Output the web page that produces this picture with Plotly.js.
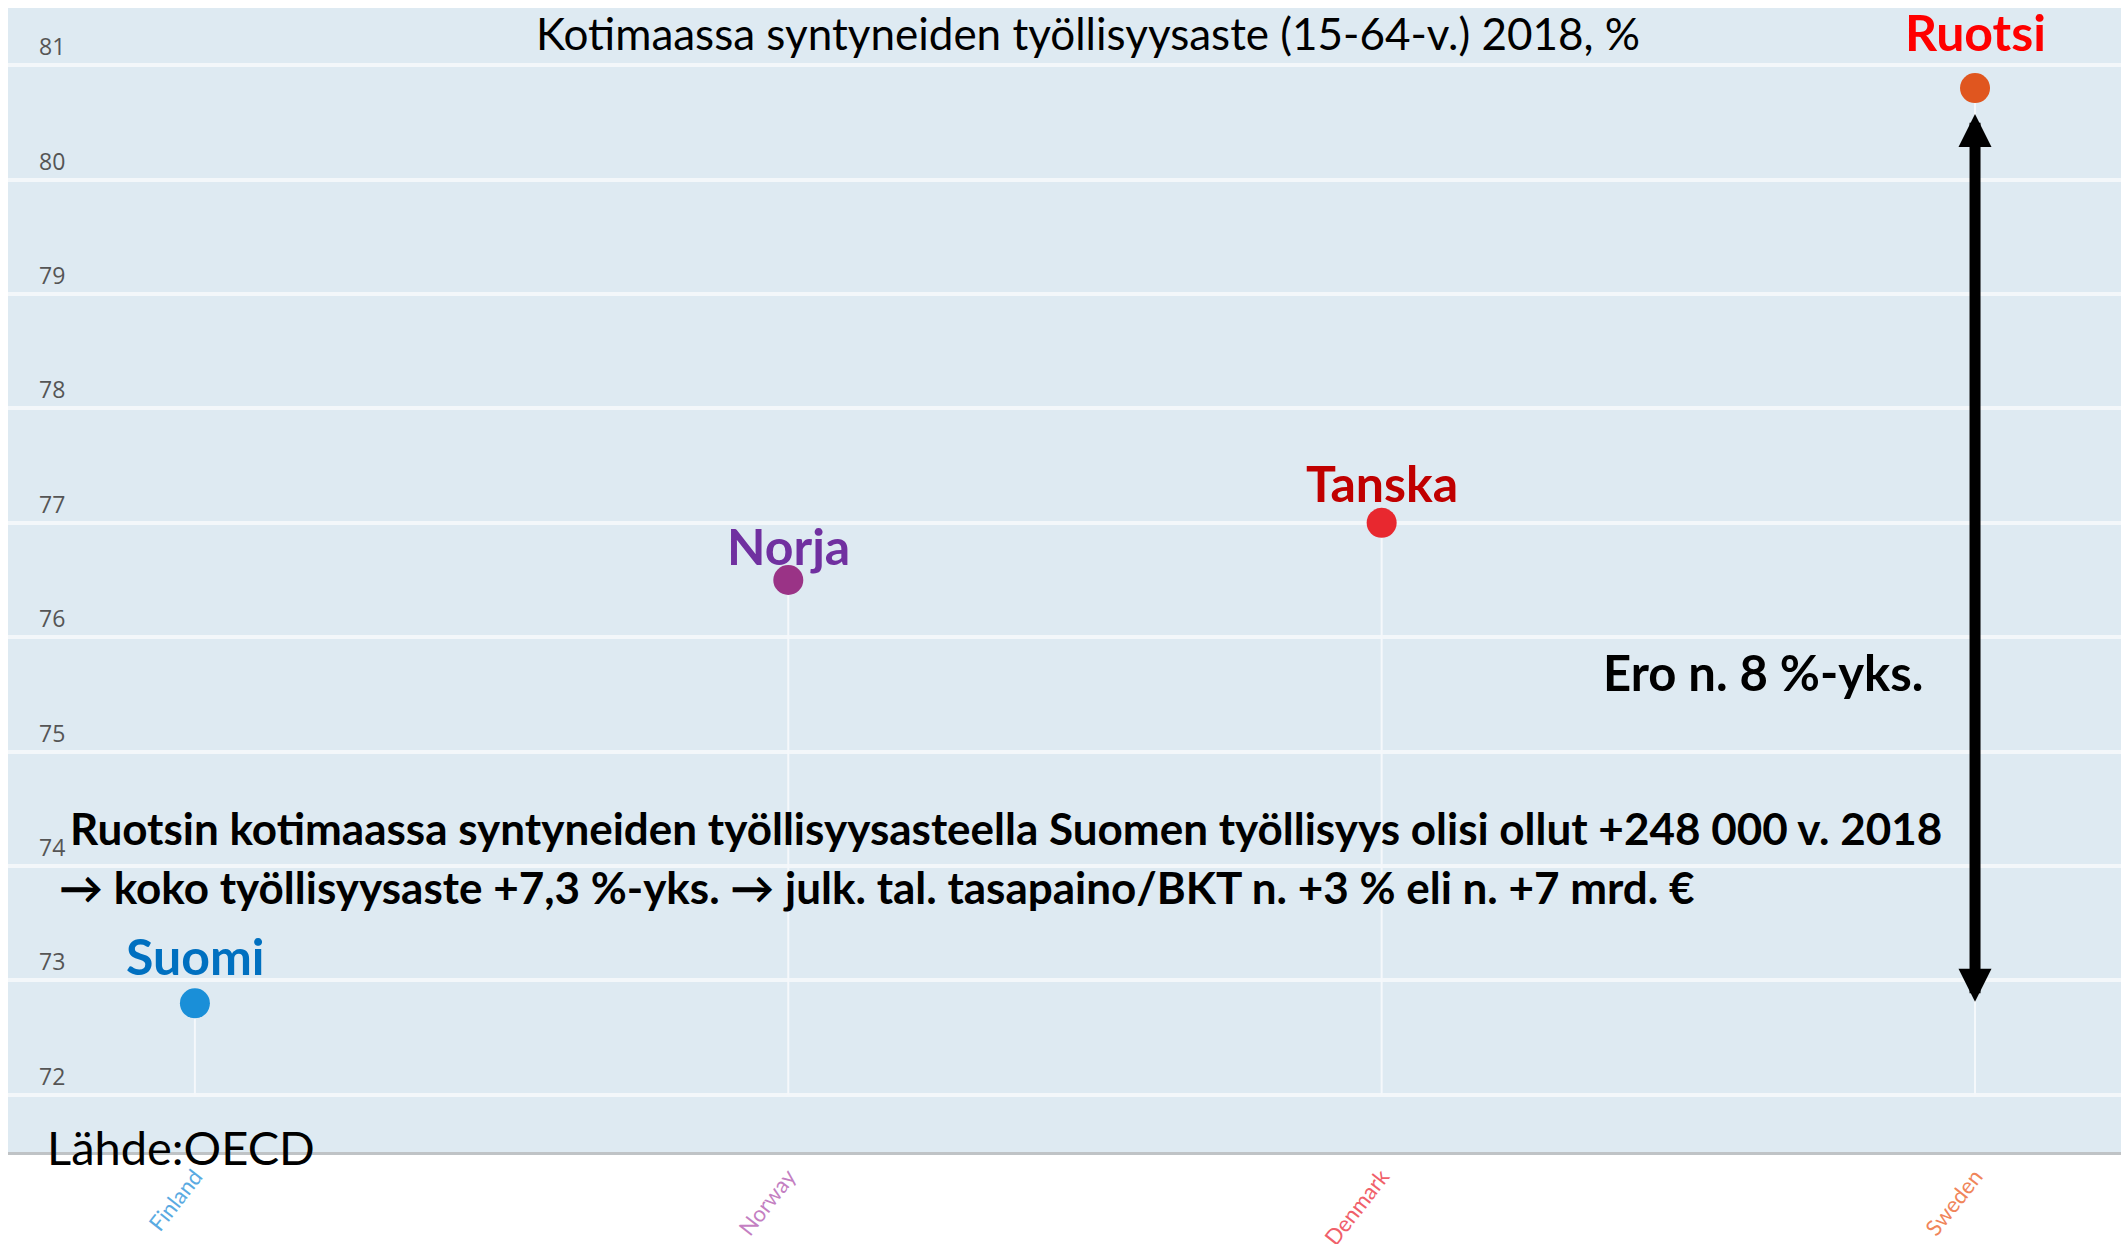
<!DOCTYPE html>
<html>
<head>
<meta charset="utf-8">
<script src="https://cdn.plot.ly/plotly-3.0.1.min.js"></script>
<style>
html,body{margin:0;padding:0;background:#fff;}
#chart{width:2121px;height:1244px;}
</style>
</head>
<body>
<div id="chart"></div>
<script>
// ---- data ----
const categories = ["Finland", "Norway", "Denmark", "Sweden"];
const values = [72.8, 76.5, 77.0, 80.8];
const labelsFi = ["Suomi", "Norja", "Tanska", "Ruotsi"];
const yTicks = [72, 73, 74, 75, 76, 77, 78, 79, 80, 81];
const baseline = 72;
const titleText = "Kotimaassa syntyneiden työllisyysaste (15-64-v.) 2018, %";
const noteLine1 = "Ruotsin kotimaassa syntyneiden työllisyysasteella Suomen työllisyys olisi ollut +248 000 v. 2018";
const noteLine2 = "→ koko työllisyysaste +7,3 %-yks. → julk. tal. tasapaino/BKT n. +3 % eli n. +7 mrd. €";
const gapText = "Ero n. 8 %-yks.";
const sourceText = "Lähde:OECD";

// ---- styles ----
const markerColors = ["#1a8fd8", "#9a3386", "#e8282f", "#e0561f"];
const labelColors = ["#0070c0", "#7030a0", "#c00000", "#ff0000"];
const tickColors = ["#5aaae2", "#c47fc2", "#f0606a", "#f0855a"];
const labelShift = [47, 34, 40, 56];
const FONT = "Lato, 'Open Sans', sans-serif";

const idx = categories.map((c, i) => i);

const traces = [];
// stems
categories.forEach((c, i) => {
  traces.push({
    type: "scatter", mode: "lines",
    x: [i, i], y: [baseline, values[i]],
    line: {color: "#f5f8fb", width: 2},
    hoverinfo: "skip", showlegend: false
  });
});
// dots
traces.push({
  type: "scatter", mode: "markers",
  x: idx, y: values,
  marker: {size: 30, color: markerColors, line: {width: 0}},
  showlegend: false
});

const annotations = [];
categories.forEach((c, i) => {
  annotations.push({
    x: i, y: values[i], xref: "x", yref: "y",
    text: "<b>" + labelsFi[i] + "</b>", showarrow: false,
    yshift: labelShift[i], font: {family: FONT, size: 50, color: labelColors[i]}
  });
});
const iSwe = categories.indexOf("Sweden");
const iFin = categories.indexOf("Finland");
annotations.push({
  x: iSwe, y: values[iSwe], xref: "x", yref: "y",
  ax: iSwe, ay: values[iFin], axref: "x", ayref: "y",
  text: "", showarrow: true, arrowside: "end+start",
  arrowhead: 2, startarrowhead: 2, arrowsize: 0.6, startarrowsize: 0.6,
  arrowwidth: 11, arrowcolor: "#000", standoff: 26, startstandoff: 0
});
annotations.push({
  x: 0.8306, y: 0.4196, xref: "paper", yref: "paper", xanchor: "center", yanchor: "middle",
  text: "<b>" + gapText + "</b>", showarrow: false,
  font: {family: FONT, size: 49, color: "#000"}
});
annotations.push({
  x: 0.0284, y: 0.2832, xref: "paper", yref: "paper", xanchor: "left", yanchor: "middle",
  text: "<b>" + noteLine1 + "</b>", showarrow: false,
  font: {family: FONT, size: 44, color: "#000"}
});
annotations.push({
  x: 0.0232, y: 0.2316, xref: "paper", yref: "paper", xanchor: "left", yanchor: "middle",
  text: "<b>" + noteLine2 + "</b>", showarrow: false,
  font: {family: FONT, size: 44, color: "#000"}
});
annotations.push({
  x: 0.0175, y: 0.0044, xref: "paper", yref: "paper", xanchor: "left", yanchor: "middle",
  text: sourceText, showarrow: false,
  font: {family: FONT, size: 47, color: "#000"}
});

const layout = {
  width: 2121, height: 1244,
  margin: {l: 8, r: 0, t: 8, b: 92},
  paper_bgcolor: "#ffffff",
  plot_bgcolor: "#deeaf2",
  title: {
    text: titleText, x: 0.513, xanchor: "center", y: 0.972, yanchor: "middle",
    font: {family: FONT, size: 44, color: "#000"}
  },
  xaxis: {
    range: [-0.315, 3.246],
    tickvals: idx,
    ticktext: categories.map((c, i) => '<span style="color:' + tickColors[i] + '">' + c + '</span>'),
    tickangle: -52, tickfont: {family: FONT, size: 22},
    showgrid: false, zeroline: false,
    showline: true, linecolor: "#bfc3c6", linewidth: 3,
    ticks: "", fixedrange: true
  },
  yaxis: {
    range: [71.5, 81.5],
    tickvals: yTicks,
    ticktext: yTicks.map(String),
    ticklabelposition: "inside",
    ticklabelshift: -18,
    ticklabelstandoff: 28,
    tickfont: {family: "'Open Sans', sans-serif", size: 23, color: "#555"},
    showgrid: true, gridcolor: "#f3f7fa", gridwidth: 4,
    zeroline: false, showline: false, ticks: "", fixedrange: true
  },
  annotations: annotations,
  showlegend: false
};

Plotly.newPlot("chart", traces, layout, {displayModeBar: false, staticPlot: true});
</script>
</body>
</html>
